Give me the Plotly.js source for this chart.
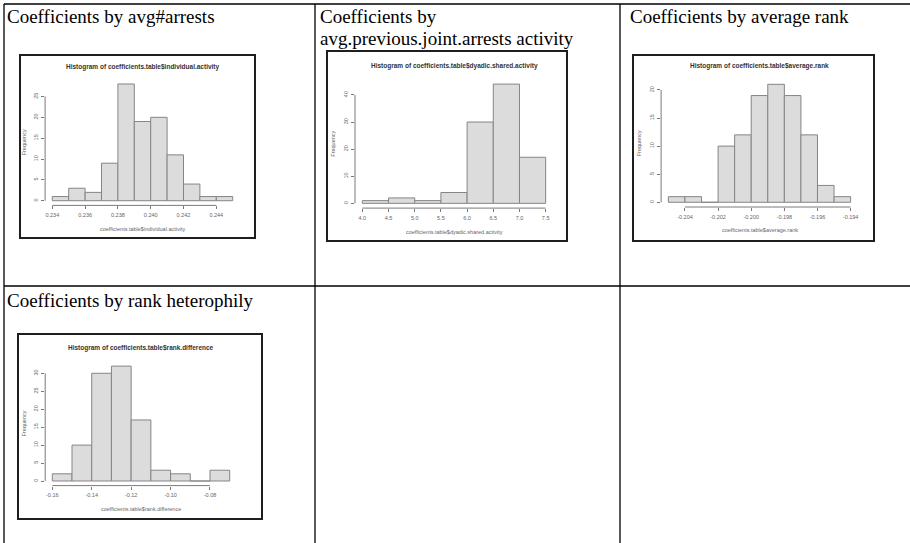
<!DOCTYPE html>
<html>
<head>
<meta charset="utf-8">
<script src="https://cdn.plot.ly/plotly-3.0.1.min.js"></script>
<style>
  html, body { margin: 0; padding: 0; background: #ffffff; }
  #fig { width: 910px; height: 543px; }
</style>
</head>
<body>
<div id="fig"></div>
<script>
// ---- histogram data: bin breaks and frequencies ----
const activityBreaks = [0.234, 0.235, 0.236, 0.237, 0.238, 0.239, 0.240, 0.241, 0.242, 0.243, 0.244, 0.245];
const activityCounts = [1, 3, 2, 9, 28, 19, 20, 11, 4, 1, 1];
const activityXTicks = [0.234, 0.236, 0.238, 0.240, 0.242, 0.244];
const activityXLabels = ['0.234', '0.236', '0.238', '0.240', '0.242', '0.244'];
const activityYTicks = [0, 5, 10, 15, 20, 25];

const sharedBreaks = [4.0, 4.5, 5.0, 5.5, 6.0, 6.5, 7.0, 7.5];
const sharedCounts = [1, 2, 1, 4, 30, 44, 17];
const sharedXTicks = [4.0, 4.5, 5.0, 5.5, 6.0, 6.5, 7.0, 7.5];
const sharedXLabels = ['4.0', '4.5', '5.0', '5.5', '6.0', '6.5', '7.0', '7.5'];
const sharedYTicks = [0, 10, 20, 30, 40];

const rankBreaks = [-0.205, -0.204, -0.203, -0.202, -0.201, -0.200, -0.199, -0.198, -0.197, -0.196, -0.195, -0.194];
const rankCounts = [1, 1, 0, 10, 12, 19, 21, 19, 12, 3, 1];
const rankXTicks = [-0.204, -0.202, -0.200, -0.198, -0.196, -0.194];
const rankXLabels = ['-0.204', '-0.202', '-0.200', '-0.198', '-0.196', '-0.194'];
const rankYTicks = [0, 5, 10, 15, 20];

const diffBreaks = [-0.16, -0.15, -0.14, -0.13, -0.12, -0.11, -0.10, -0.09, -0.08, -0.07];
const diffCounts = [2, 10, 30, 32, 17, 3, 2, 0, 3];
const diffXTicks = [-0.16, -0.14, -0.12, -0.10, -0.08];
const diffXLabels = ['-0.16', '-0.14', '-0.12', '-0.10', '-0.08'];
const diffYTicks = [0, 5, 10, 15, 20, 25, 30];

const cellHeadings = [
  ['Coefficients by avg#arrests'],
  ['Coefficients by', 'avg.previous.joint.arrests activity'],
  ['Coefficients by average rank'],
  ['Coefficients by rank heterophily']
];
const plotTitles = [
  'Histogram of coefficients.table$individual.activity',
  'Histogram of coefficients.table$dyadic.shared.activity',
  'Histogram of coefficients.table$average.rank',
  'Histogram of coefficients.table$rank.difference'
];
const xAxisTitles = [
  'coefficients.table$individual.activity',
  'coefficients.table$dyadic.shared.activity',
  'coefficients.table$average.rank',
  'coefficients.table$rank.difference'
];

// ---- page geometry (pixels) ----
const W = 910, H = 543;
const fx = v => v / W;
const fy = v => 1 - v / H;

const panels = [
  { breaks: activityBreaks, counts: activityCounts, xt: activityXTicks, xl: activityXLabels, yt: activityYTicks,
    box: { l: 45.1, r: 239.9, t: 79.3, b: 205.4 }, frame: { l: 20, r: 255, t: 55, b: 238 },
    titleY: 67, xTitleY: 229, yTitleX: 24 },
  { breaks: sharedBreaks, counts: sharedCounts, xt: sharedXTicks, xl: sharedXLabels, yt: sharedYTicks,
    box: { l: 355, r: 553, t: 79.3, b: 208.1 }, frame: { l: 327, r: 567, t: 51, b: 241 },
    titleY: 66, xTitleY: 232, yTitleX: 333 },
  { breaks: rankBreaks, counts: rankCounts, xt: rankXTicks, xl: rankXLabels, yt: rankYTicks,
    box: { l: 661.1, r: 857.9, t: 79.6, b: 207 }, frame: { l: 633, r: 874, t: 55, b: 241 },
    titleY: 66, xTitleY: 230, yTitleX: 639 },
  { breaks: diffBreaks, counts: diffCounts, xt: diffXTicks, xl: diffXLabels, yt: diffYTicks,
    box: { l: 45.2, r: 236.8, t: 361.5, b: 485.6 }, frame: { l: 18, r: 262, t: 334, b: 519 },
    titleY: 348, xTitleY: 509, yTitleX: 24 }
];

const headingPos = [
  [{ x: 5, y: 16 }],
  [{ x: 318, y: 16 }, { x: 318, y: 38 }],
  [{ x: 628, y: 16 }],
  [{ x: 5, y: 300 }]
];

const data = [];
const shapes = [];
const annotations = [];
const layout = {
  width: W, height: H,
  margin: { l: 0, r: 0, t: 0, b: 0 },
  paper_bgcolor: '#ffffff',
  plot_bgcolor: 'rgba(0,0,0,0)',
  showlegend: false,
  bargap: 0,
  font: { family: 'Liberation Sans, Arial, sans-serif', color: '#555' }
};

// table rules
const tableLine = { color: '#000000', width: 1.3 };
[[4, 4, 910, 4], [4, 286, 910, 286], [4, 4, 4, 543], [315, 4, 315, 543], [620, 4, 620, 543]].forEach(s => {
  shapes.push({ type: 'line', xref: 'paper', yref: 'paper',
    x0: fx(s[0]), y0: fy(s[1]), x1: fx(s[2]), y1: fy(s[3]), line: tableLine });
});

// cell headings
cellHeadings.forEach((lines, i) => {
  lines.forEach((txt, j) => {
    annotations.push({ xref: 'paper', yref: 'paper', x: fx(headingPos[i][j].x), y: fy(headingPos[i][j].y),
      xanchor: 'left', yanchor: 'middle', showarrow: false, text: txt,
      font: { family: '"Liberation Serif", "Times New Roman", serif', size: 19, color: '#000' } });
  });
});

panels.forEach((p, i) => {
  const n = i + 1;
  const xa = n === 1 ? 'x' : 'x' + n;
  const ya = n === 1 ? 'y' : 'y' + n;
  const xKey = n === 1 ? 'xaxis' : 'xaxis' + n;
  const yKey = n === 1 ? 'yaxis' : 'yaxis' + n;

  const mids = p.counts.map((_, k) => (p.breaks[k] + p.breaks[k + 1]) / 2);
  const widths = p.counts.map((_, k) => p.breaks[k + 1] - p.breaks[k]);
  data.push({ type: 'bar', x: mids, y: p.counts, width: widths, xaxis: xa, yaxis: ya,
    marker: { color: '#dcdcdc', line: { color: '#858585', width: 1 } }, hoverinfo: 'skip' });

  // R-style 4% padding on both axes
  const x0 = p.breaks[0], x1 = p.breaks[p.breaks.length - 1];
  const dx = (x1 - x0) * 0.04;
  const ymax = Math.max(...p.counts);

  layout[xKey] = {
    domain: [fx(p.box.l), fx(p.box.r)], anchor: ya, range: [x0 - dx, x1 + dx],
    showgrid: false, zeroline: false, showline: false,
    tickmode: 'array', tickvals: p.xt, ticktext: p.xl,
    ticks: 'outside', ticklen: 3, tickwidth: 1, tickcolor: '#7a7a7a',
    tickfont: { size: 5.5, color: '#666' }, ticklabelstandoff: 1
  };
  layout[yKey] = {
    domain: [fy(p.box.b), fy(p.box.t)], anchor: xa, range: [-0.04 * ymax, 1.04 * ymax],
    showgrid: false, zeroline: false, showline: false,
    tickmode: 'array', tickvals: p.yt, ticktext: p.yt.map(String),
    ticks: 'outside', ticklen: 3, tickwidth: 1, tickcolor: '#7a7a7a',
    tickangle: -90, tickfont: { size: 5.5, color: '#666' }, ticklabelstandoff: 1
  };

  // detached axis lines spanning first to last tick
  shapes.push({ type: 'line', xref: xa, yref: ya + ' domain',
    x0: p.xt[0], x1: p.xt[p.xt.length - 1], y0: 0, y1: 0, line: { color: '#7a7a7a', width: 1 } });
  shapes.push({ type: 'line', xref: xa + ' domain', yref: ya,
    x0: 0, x1: 0, y0: p.yt[0], y1: p.yt[p.yt.length - 1], line: { color: '#7a7a7a', width: 1 } });

  // image frame
  shapes.push({ type: 'rect', xref: 'paper', yref: 'paper',
    x0: fx(p.frame.l), x1: fx(p.frame.r), y0: fy(p.frame.b), y1: fy(p.frame.t),
    line: { color: '#1e1e1e', width: 2 } });

  const cx = (p.box.l + p.box.r) / 2;
  annotations.push({ xref: 'paper', yref: 'paper', x: fx(cx), y: fy(p.titleY), xanchor: 'center', yanchor: 'middle',
    showarrow: false, text: '<b>' + plotTitles[i] + '</b>', font: { size: 6.5, color: '#333' } });
  annotations.push({ xref: 'paper', yref: 'paper', x: fx(cx), y: fy(p.xTitleY), xanchor: 'center', yanchor: 'middle',
    showarrow: false, text: xAxisTitles[i], font: { size: 5.5, color: '#666' } });
  annotations.push({ xref: 'paper', yref: 'paper', x: fx(p.yTitleX), y: fy((p.box.t + p.box.b) / 2),
    xanchor: 'center', yanchor: 'middle', textangle: -90,
    showarrow: false, text: 'Frequency', font: { size: 5.5, color: '#666' } });
});

layout.shapes = shapes;
layout.annotations = annotations;

Plotly.newPlot('fig', data, layout, { staticPlot: true, displayModeBar: false });
</script>
</body>
</html>
